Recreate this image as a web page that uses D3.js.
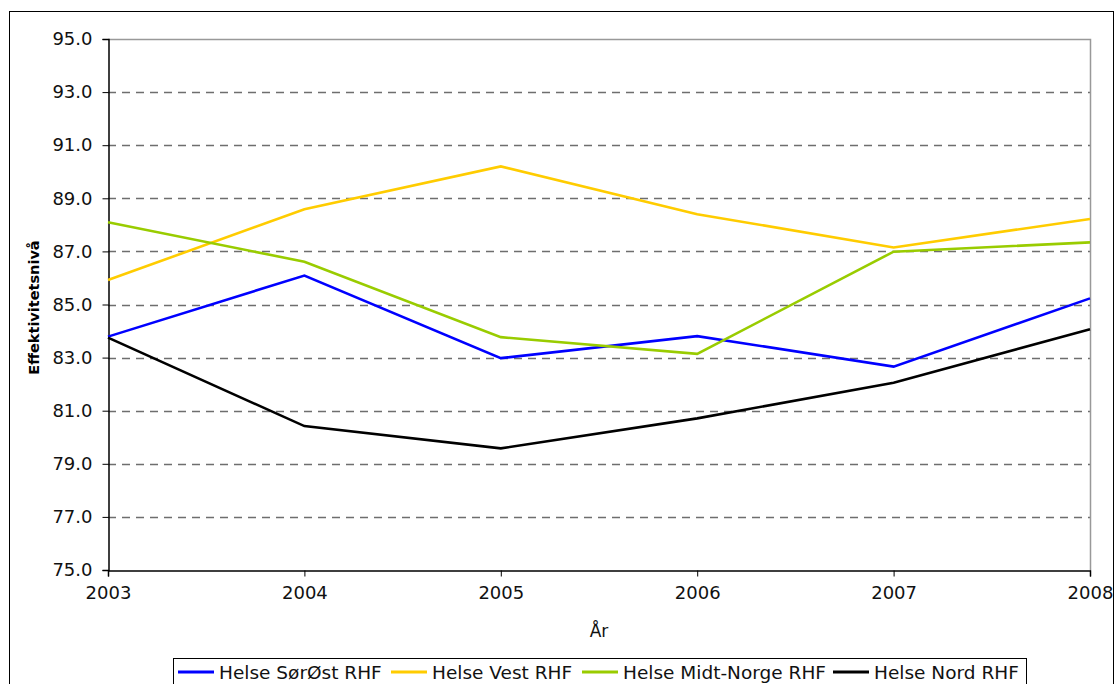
<!DOCTYPE html>
<html>
<head>
<meta charset="utf-8">
<script src="https://cdn.jsdelivr.net/npm/d3@7"></script>
<style>
  html, body { margin: 0; padding: 0; background: #fff; }
  svg { display: block; font-family: "DejaVu Sans", Verdana, sans-serif; }
</style>
</head>
<body>
<svg id="chart" width="1117" height="684"></svg>
<script>
// Efficiency level per regional health authority, 2003–2008
const years = [2003, 2004, 2005, 2006, 2007, 2008];
const seriesNames = ["Helse SørØst RHF", "Helse Vest RHF", "Helse Midt-Norge RHF", "Helse Nord RHF"];
const seriesColors = ["#0000ff", "#ffcc00", "#99cc00", "#000000"];
const sorOst    = [83.79, 86.09, 82.98, 83.81, 82.66, 85.23];
const vest      = [85.92, 88.59, 90.20, 88.40, 87.15, 88.22];
const midtNorge = [88.10, 86.61, 83.77, 83.14, 86.99, 87.34];
const nord      = [83.75, 80.42, 79.58, 80.71, 82.05, 84.07];
const yTicks = [75, 77, 79, 81, 83, 85, 87, 89, 91, 93, 95];
const xTitle = "År";
const yTitle = "Effektivitetsnivå";

const allSeries = [sorOst, vest, midtNorge, nord];

const svg = d3.select("#chart");
const plot = { left: 108, right: 1090, top: 39, bottom: 570 };

const x = d3.scaleLinear().domain([2003, 2008]).range([plot.left, plot.right]);
const y = d3.scaleLinear().domain([75, 95]).range([plot.bottom, plot.top]);

// outer chart frame
svg.append("rect")
  .attr("x", 9.5).attr("y", 11.5)
  .attr("width", 1104).attr("height", 700)
  .attr("fill", "#fff").attr("stroke", "#000").attr("stroke-width", 1);

// dashed gridlines
svg.append("g")
  .selectAll("line")
  .data(yTicks.filter(t => t > 75 && t < 95))
  .join("line")
  .attr("x1", plot.left).attr("x2", plot.right)
  .attr("y1", d => Math.round(y(d)) + 0.5).attr("y2", d => Math.round(y(d)) + 0.5)
  .attr("stroke", "#6e6e6e").attr("stroke-width", 1.3)
  .attr("stroke-dasharray", "8,6");

// plot border top / right in gray
svg.append("path")
  .attr("d", `M${plot.left},${y(95) + 0.5}H${plot.right + 0.5}V${plot.bottom}`)
  .attr("fill", "none").attr("stroke", "#999").attr("stroke-width", 1.5);

// y axis
const yAxis = d3.axisLeft(y).tickValues(yTicks).tickSize(6).tickPadding(10)
  .tickFormat(d3.format(".1f"));
const gy = svg.append("g").attr("transform", `translate(${plot.left + 0.5},0)`).call(yAxis);
gy.select(".domain").attr("stroke", "#000").attr("stroke-width", 1.5);
gy.selectAll(".tick line").attr("stroke", "#000");
gy.selectAll(".tick text").attr("font-size", 18).attr("fill", "#111")
  .attr("font-family", "DejaVu Sans, Verdana, sans-serif");

// x axis
const xAxis = d3.axisBottom(x).tickValues(years).tickSize(6).tickPadding(10)
  .tickFormat(d3.format("d"));
const gx = svg.append("g").attr("transform", `translate(0,${plot.bottom + 0.5})`).call(xAxis);
gx.select(".domain").attr("stroke", "#000").attr("stroke-width", 1.5);
gx.selectAll(".tick line").attr("stroke", "#000");
gx.selectAll(".tick text").attr("font-size", 18).attr("fill", "#111")
  .attr("font-family", "DejaVu Sans, Verdana, sans-serif");

// axis titles
svg.append("text")
  .attr("x", 599).attr("y", 637)
  .attr("text-anchor", "middle").attr("font-size", 17).attr("fill", "#111")
  .text(xTitle);

svg.append("text")
  .attr("transform", `translate(39,${(plot.top + plot.bottom) / 2 + 3}) rotate(-90)`)
  .attr("text-anchor", "middle").attr("font-size", 14.5).attr("font-weight", "bold")
  .text(yTitle);

// series lines
const line = d3.line().x((d, i) => x(years[i])).y(d => y(d));
svg.append("g")
  .selectAll("path")
  .data(allSeries)
  .join("path")
  .attr("d", d => line(d))
  .attr("fill", "none")
  .attr("stroke", (d, i) => seriesColors[i])
  .attr("stroke-width", 2.6)
  .attr("stroke-linejoin", "miter");

// legend
const legend = svg.append("g");
legend.append("rect")
  .attr("x", 173.5).attr("y", 658.5).attr("width", 853).attr("height", 40)
  .attr("fill", "#fff").attr("stroke", "#000").attr("stroke-width", 1);

const legendX = [178, 391, 582, 833];
const item = legend.selectAll("g.item")
  .data(seriesNames)
  .join("g")
  .attr("class", "item")
  .attr("transform", (d, i) => `translate(${legendX[i]},672)`);
item.append("line")
  .attr("x1", 0).attr("x2", 36).attr("y1", 0).attr("y2", 0)
  .attr("stroke", (d, i) => seriesColors[i]).attr("stroke-width", 3);
item.append("text")
  .attr("x", 41).attr("y", 6.5)
  .attr("font-size", 18.5).attr("fill", "#111")
  .text(d => d);
</script>
</body>
</html>
